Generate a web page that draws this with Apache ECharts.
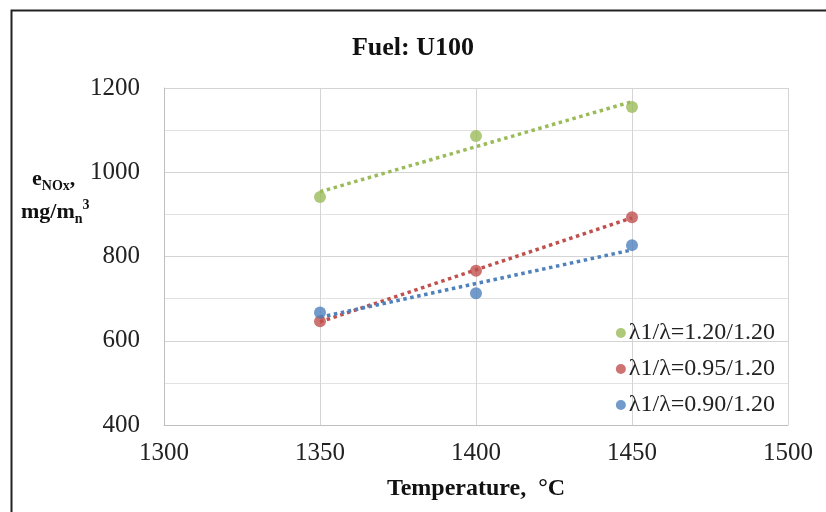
<!DOCTYPE html>
<html>
<head>
<meta charset="utf-8">
<title>Fuel: U100</title>
<script src="https://cdn.jsdelivr.net/npm/echarts@6/dist/echarts.min.js"></script>
<style>
  html, body { margin: 0; padding: 0; background: #fff; }
  #chart { width: 826px; height: 512px; }
</style>
</head>
<body>
<div id="chart"></div>
<script>
// temperatures, degC
const temps = [1350, 1400, 1450]

// eNOx, mg/m_n^3
const lambda120 = [941, 1086, 1155]
const lambda095 = [646, 766, 893]
const lambda090 = [667, 713, 827]

const seriesNames = ['λ1/λ=1.20/1.20', 'λ1/λ=0.95/1.20', 'λ1/λ=0.90/1.20']
const seriesColors = ['#9bbb59', '#c0504d', '#4f81bd']

const serif = 'Liberation Serif'

// least squares trendline through the measured points
const trendline = (xs, ys) => {
  const n = xs.length
  const mx = xs.reduce((a, b) => a + b, 0) / n
  const my = ys.reduce((a, b) => a + b, 0) / n
  let sxy = 0
  let sxx = 0
  xs.forEach((x, i) => {
    sxy += (x - mx) * (ys[i] - my)
    sxx += (x - mx) * (x - mx)
  })
  const k = sxy / sxx
  const x0 = Math.min(...xs)
  const x1 = Math.max(...xs)
  return [[x0, my + k * (x0 - mx)], [x1, my + k * (x1 - mx)]]
}

const allValues = [lambda120, lambda095, lambda090]

const chart = echarts.init(document.getElementById('chart'))

const scatterSeries = allValues.map((vals, i) => ({
  name: seriesNames[i],
  type: 'scatter',
  symbol: 'circle',
  symbolSize: 12,
  z: 5,
  itemStyle: { color: seriesColors[i] },
  data: temps.map((t, j) => [t, vals[j]])
}))

const trendSeries = allValues.map((vals, i) => ({
  name: seriesNames[i] + ' trend',
  type: 'line',
  symbol: 'none',
  silent: true,
  z: 3,
  lineStyle: {
    color: seriesColors[i],
    width: 3.5,
    type: [3.5, 3.6]
  },
  data: trendline(temps, vals)
}))

const plainNumber = v => String(v)

const option = {
  backgroundColor: '#fff',
  animation: false,
  title: {
    text: 'Fuel: U100',
    left: 'center',
    top: 30,
    textStyle: {
      fontFamily: serif,
      fontWeight: 'bold',
      fontSize: 26,
      color: '#111'
    }
  },
  legend: {
    orient: 'vertical',
    right: 46,
    top: 316,
    icon: 'circle',
    itemWidth: 10,
    itemHeight: 10,
    itemGap: 12,
    data: seriesNames,
    textStyle: {
      fontFamily: serif,
      fontSize: 24,
      color: '#222',
      padding: [0, 0, 0, -2]
    }
  },
  grid: {
    left: 164,
    right: 38,
    top: 88,
    bottom: 87
  },
  xAxis: {
    type: 'value',
    min: 1300,
    max: 1500,
    interval: 50,
    name: 'Temperature,  °C',
    nameLocation: 'middle',
    nameGap: 52,
    nameTextStyle: {
      fontFamily: serif,
      fontWeight: 'bold',
      fontSize: 24,
      color: '#111'
    },
    axisLine: { show: true, lineStyle: { color: '#bfbfbf', width: 1 } },
    axisTick: { show: false },
    axisLabel: {
      margin: 16,
      fontFamily: serif,
      fontSize: 25,
      color: '#222',
      formatter: plainNumber
    },
    splitLine: { show: true, lineStyle: { color: '#d4d4d4' } }
  },
  yAxis: {
    type: 'value',
    min: 400,
    max: 1200,
    interval: 200,
    axisLine: { show: true, lineStyle: { color: '#bfbfbf', width: 1 } },
    axisTick: { show: false },
    axisLabel: {
      margin: 24,
      fontFamily: serif,
      fontSize: 25,
      color: '#222',
      formatter: plainNumber
    },
    splitLine: { show: true, lineStyle: { color: '#d4d4d4' } },
    minorTick: { show: false, splitNumber: 2 },
    minorSplitLine: { show: true, lineStyle: { color: '#e2e2e2' } }
  },
  graphic: [
    {
      type: 'rect',
      left: 9,
      top: 8,
      shape: { width: 830, height: 520 },
      style: { fill: 'none', stroke: '#222', lineWidth: 2 },
      silent: true
    },
    {
      type: 'text',
      left: 32,
      top: 168,
      style: {
        text: '{b|e}{sub|NOx}{b|,}',
        rich: {
          b: { fontFamily: serif, fontWeight: 'bold', fontSize: 22, lineHeight: 28, fill: '#111' },
          sub: { fontFamily: serif, fontWeight: 'bold', fontSize: 14, lineHeight: 14, verticalAlign: 'bottom', fill: '#111' }
        }
      }
    },
    {
      type: 'text',
      left: 21,
      top: 198,
      style: {
        text: '{b|mg/m}{sub|n}{sup|3}',
        rich: {
          b: { fontFamily: serif, fontWeight: 'bold', fontSize: 22, lineHeight: 28, fill: '#111' },
          sub: { fontFamily: serif, fontWeight: 'bold', fontSize: 14, lineHeight: 14, verticalAlign: 'bottom', fill: '#111' },
          sup: { fontFamily: serif, fontWeight: 'bold', fontSize: 14, lineHeight: 14, verticalAlign: 'top', fill: '#111' }
        }
      }
    }
  ],
  series: [...trendSeries, ...scatterSeries]
}

chart.setOption(option)

window.addEventListener('resize', () => {
  chart.resize()
})
</script>
</body>
</html>
